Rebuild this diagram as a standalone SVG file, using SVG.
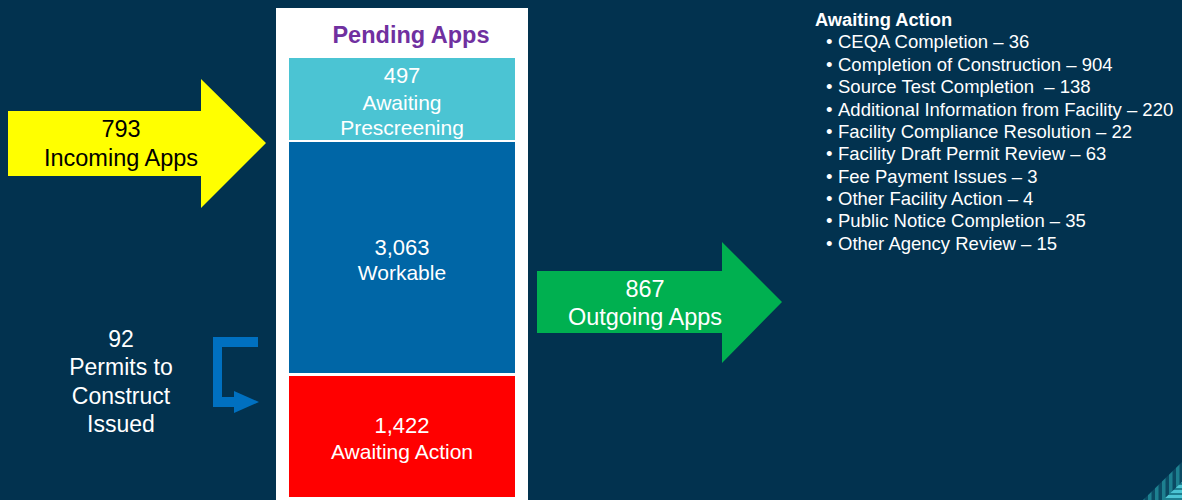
<svg xmlns="http://www.w3.org/2000/svg" width="1182" height="500" viewBox="0 0 1182 500">
<defs>
<style>
text{font-family:"Liberation Sans",Arial,sans-serif;}
.w{fill:#ffffff;}
.k{fill:#000000;}
.c{text-anchor:middle;}
.big{font-size:23.5px;}
.mid{font-size:21px;}
.list{font-size:18.5px;fill:#ffffff;}
</style>
<pattern id="vs" patternUnits="userSpaceOnUse" width="7" height="10">
<rect width="7" height="10" fill="#0b4a63"/>
<rect width="3.5" height="10" fill="#1d8090"/>
</pattern>
<pattern id="hs" patternUnits="userSpaceOnUse" width="10" height="5">
<rect width="10" height="5" fill="#1d8090"/>
<rect width="10" height="3" fill="#4cc5d3"/>
</pattern>
</defs>
<rect width="1182" height="500" fill="#02324f"/>

<g id="corner-decoration">
<polygon points="1182,462 1182,500 1143,500" fill="url(#vs)"/>
<polygon points="1182,482 1182,500 1163,500" fill="url(#hs)"/>
</g>

<g id="pending-panel">
<rect x="276" y="8" width="252" height="492" fill="#ffffff"/>
<text x="411" y="43" class="c" style="font-size:23.5px;font-weight:bold;fill:#7030a0">Pending Apps</text>
</g>

<g id="node-prescreening">
<rect x="289" y="58" width="226" height="82" fill="#4bc4d3"/>
<text class="w c mid" x="402" y="83" style="font-size:22px">497</text>
<text class="w c mid" x="402" y="110">Awaiting</text>
<text class="w c mid" x="402" y="135">Prescreening</text>
</g>

<g id="node-workable">
<rect x="289" y="142" width="226" height="231" fill="#0066a6"/>
<text class="w c mid" x="402" y="255" style="font-size:22px">3,063</text>
<text class="w c mid" x="402" y="280">Workable</text>
</g>

<g id="node-awaiting-action">
<rect x="289" y="376" width="226" height="121" fill="#ff0000"/>
<text class="w c mid" x="402" y="433" style="font-size:22px">1,422</text>
<text class="w c mid" x="402" y="459">Awaiting Action</text>
</g>

<g id="connectors">
<g id="incoming-arrow">
<polygon points="8,111 201,111 201,79 266,143 201,208 201,176 8,176" fill="#ffff00"/>
<text class="k c big" x="121" y="137">793</text>
<text class="k c big" x="121" y="166">Incoming Apps</text>
</g>
<g id="outgoing-arrow">
<polygon points="537,271 722,271 722,242 782,302 722,363 722,333 537,333" fill="#00b050"/>
<text class="w c big" x="645" y="297">867</text>
<text class="w c big" x="645" y="325">Outgoing Apps</text>
</g>
<g id="issued-arrow">
<path d="M213,337 H258 V347 H222 V397 H234 V391 L259,402 L234,413 V407 H213 Z" fill="#0070c0"/>
</g>
</g>

<g id="node-issued">
<text class="w c" x="121" y="347" style="font-size:23px">92</text>
<text class="w c" x="121" y="375" style="font-size:23px">Permits to</text>
<text class="w c" x="121" y="404" style="font-size:23px">Construct</text>
<text class="w c" x="121" y="432" style="font-size:23px">Issued</text>
</g>

<g id="awaiting-action-list">
<text x="815" y="26" style="font-size:18.3px;font-weight:bold;fill:#ffffff">Awaiting Action</text>
<text class="list" x="826" y="48">•</text><text class="list" x="838" y="48">CEQA Completion – 36</text>
<text class="list" x="826" y="70.5">•</text><text class="list" x="838" y="70.5">Completion of Construction – 904</text>
<text class="list" x="826" y="93">•</text><text class="list" x="838" y="93" xml:space="preserve">Source Test Completion  – 138</text>
<text class="list" x="826" y="115.5">•</text><text class="list" x="838" y="115.5">Additional Information from Facility – 220</text>
<text class="list" x="826" y="138">•</text><text class="list" x="838" y="138">Facility Compliance Resolution – 22</text>
<text class="list" x="826" y="160">•</text><text class="list" x="838" y="160">Facility Draft Permit Review – 63</text>
<text class="list" x="826" y="182.5">•</text><text class="list" x="838" y="182.5">Fee Payment Issues – 3</text>
<text class="list" x="826" y="205">•</text><text class="list" x="838" y="205">Other Facility Action – 4</text>
<text class="list" x="826" y="227">•</text><text class="list" x="838" y="227">Public Notice Completion – 35</text>
<text class="list" x="826" y="249.5">•</text><text class="list" x="838" y="249.5">Other Agency Review – 15</text>
</g>
</svg>
